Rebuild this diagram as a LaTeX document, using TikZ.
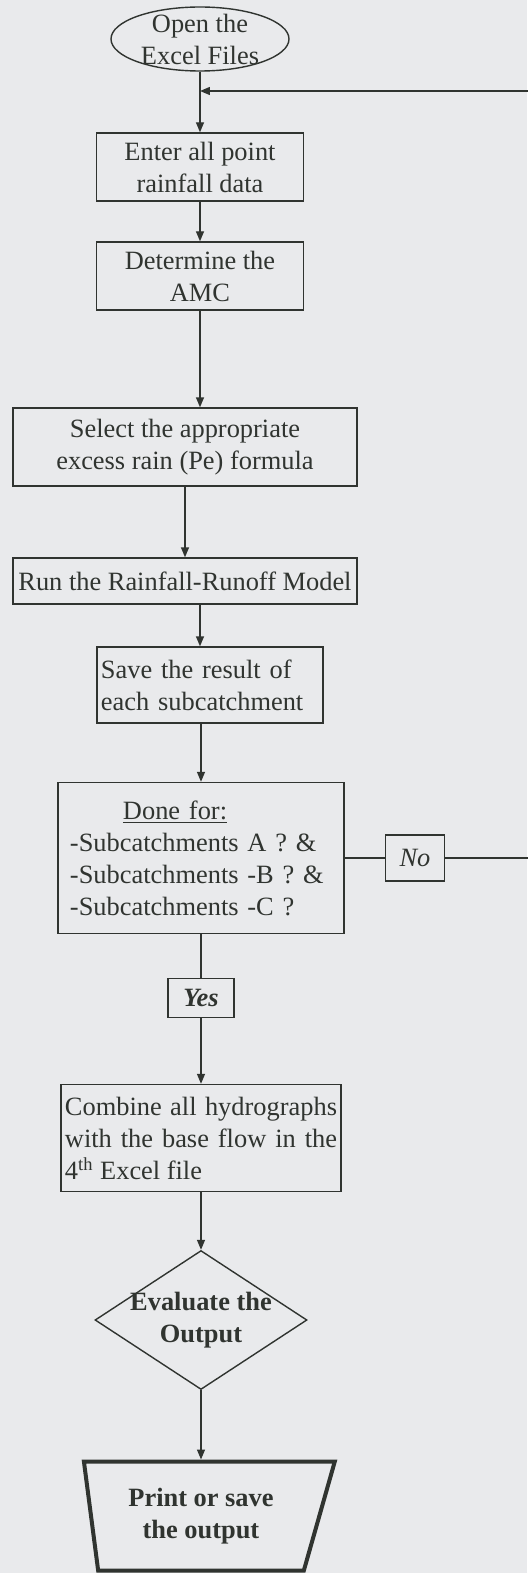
\documentclass[tikz,border=0pt]{standalone}
\usepackage{fontspec}
\setmainfont{Liberation Serif}
\usetikzlibrary{shapes.geometric,arrows.meta,positioning}
\definecolor{paper}{RGB}{233,234,236}
\definecolor{ink}{RGB}{48,52,48}
\tikzset{
  block/.style={draw=ink, text=ink, rectangle, line width=0.7pt, align=center, inner sep=2pt},
  terminal/.style={draw=ink, ellipse, line width=0.7pt, inner sep=0pt, minimum width=89pt, minimum height=32pt},
  decision/.style={draw=ink, diamond, line width=0.7pt, inner sep=0pt, minimum width=106pt, minimum height=69.5pt},
  output/.style={draw=ink, text=ink, trapezium, shape border rotate=180, trapezium stretches=true,
    trapezium left angle=71, trapezium right angle=81, line width=2pt, minimum width=126pt,
    minimum height=54.5pt, font=\fontsize{13.2}{16}\selectfont\bfseries, align=center},
  answer/.style={block, minimum height=19.5pt, inner sep=1pt}
}
\begin{document}
\begin{tikzpicture}[font=\fontsize{13.2}{16}\selectfont, >={Triangle[length=5pt,width=4pt]}]
   \path[use as bounding box, fill=paper] (-100pt,19.5pt) rectangle (163.5pt,-767pt);
   \node[terminal, label={[ink,align=center]center:Open the\\Excel Files}] (open) at (0,0) {};
   \node[block, minimum width=103.5pt, minimum height=34pt, node distance=64pt, below of=open] (enter)
      {Enter all point\\rainfall data};
   \node[block, minimum width=103.5pt, minimum height=34pt, node distance=54.5pt, below of=enter] (amc)
      {Determine the\\AMC};
   \node[block, minimum width=172pt, minimum height=39pt, node distance=85.5pt, below of=amc, xshift=-7.5pt] (select)
      {Select the appropriate\\excess rain (Pe) formula};
   \node[block, minimum width=172pt, minimum height=23pt, node distance=67pt, below of=select] (run)
      {Run the Rainfall-Runoff Model};
   \node[block, text width=109pt, align=left, minimum height=38pt, node distance=52pt, below of=run, xshift=12.5pt] (save)
      {Save the result of\\each subcatchment};
   \node[block, text width=131pt, inner xsep=6pt, align=left, minimum height=75.5pt, node distance=86.5pt,
      below of=save, xshift=-4.5pt] (done)
      {\hspace*{26.5pt}\underline{Done for:}\\-Subcatchments A ? \&\\-Subcatchments -B ? \&\\-Subcatchments -C ?};
   \node[answer, minimum width=29.5pt, minimum height=23pt, node distance=107pt, right of=done] (no) {\itshape No};
   \node[answer, minimum width=33pt, node distance=70pt, below of=done] (yes) {\bfseries\itshape Yes};
   \node[block, text width=136pt, align=justify, minimum height=53.5pt, node distance=70pt, below of=yes] (combine)
      {Combine all hydrographs\linebreak with the base flow in the\linebreak 4\textsuperscript{th} Excel file};
   \node[decision, node distance=91pt, below of=combine,
      label={[ink,align=center,font=\fontsize{13.2}{16}\selectfont\bfseries]center:Evaluate the\\Output}] (eval) {};
   \node[output, node distance=98pt, below of=eval] (print) {Print or save\\the output};
   \coordinate (back) at (170pt,-26pt);
   \path[->, ink, line width=0.7pt]
     (open)                 edge      (enter)
     (enter)                edge      (amc)
     (amc.south)            edge      (amc.south |- select.north)
     (select)               edge      (run)
     (run.south -| open)    edge      (save.north -| open)
     (save.south -| done)   edge      (done)
     (done)                 edge[-]   (yes)
     (yes)                  edge      (combine)
     (combine)              edge      (eval)
     (eval)                 edge      (print)
     (done)                 edge[-]   (no);
   \draw[->, ink, line width=0.7pt] (no) -| (back) -- (open |- back);
\end{tikzpicture}
\end{document}
